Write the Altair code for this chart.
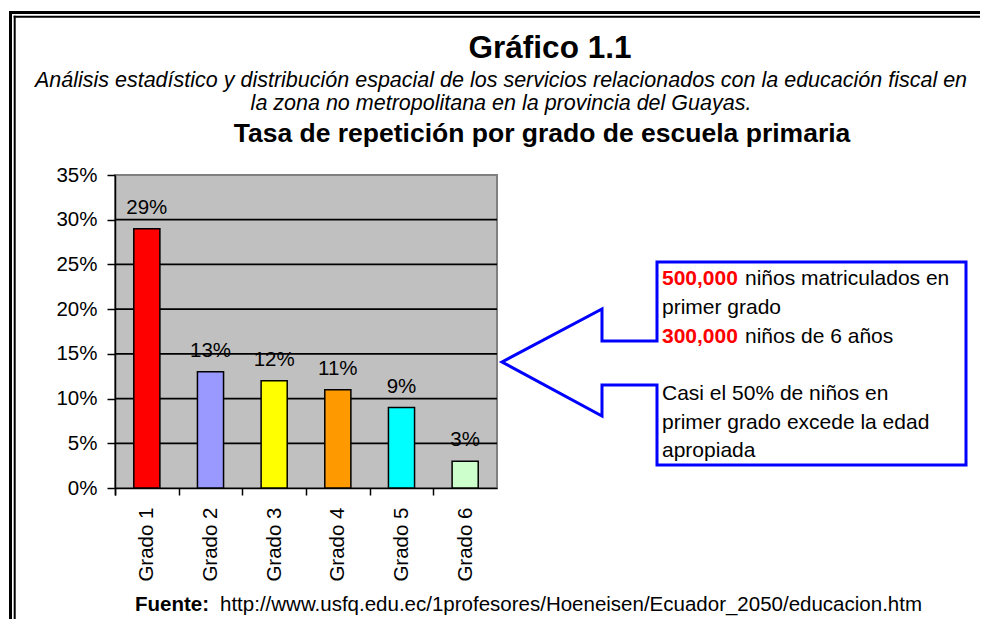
import altair as alt
import pandas as pd

# ---------------- data ----------------
grados = ["Grado 1", "Grado 2", "Grado 3", "Grado 4", "Grado 5", "Grado 6"]
tasas = [0.29, 0.13, 0.12, 0.11, 0.09, 0.03]
colores = ["#FF0000", "#9999FF", "#FFFF00", "#FF9900", "#00FFFF", "#CCFFCC"]
y_ticks = [0, 0.05, 0.10, 0.15, 0.20, 0.25, 0.30, 0.35]
grid_vals = [0.05, 0.10, 0.15, 0.20, 0.25, 0.30]

titulo = "Gráfico 1.1"
subtitulo = [
    "Análisis estadístico y distribución espacial de los servicios relacionados con la educación fiscal en",
    "la zona no metropolitana en la provincia del Guayas.",
]
titulo_grafico = "Tasa de repetición por grado de escuela primaria"
callout_bold = ["500,000", "", "300,000", "", "", "", ""]
callout_text = [
    "niños matriculados en",
    "primer grado",
    "niños de 6 años",
    "",
    "Casi el 50% de niños en",
    "primer grado excede la edad",
    "apropiada",
]
fuente_label = "Fuente:"
fuente_url = "http://www.usfq.edu.ec/1profesores/Hoeneisen/Ecuador_2050/educacion.htm"

df = pd.DataFrame({"grado": grados, "tasa": tasas, "color": colores})
one = pd.DataFrame({"k": [0]})

FONT = "Liberation Sans"
W, H = 382, 313
OX, OY = 115, 175  # page position of the plot area's top-left corner
PAD_L, PAD_T = OX - 8, OY - 8
TOTAL_W, TOTAL_H = 972, 611

P_INNER, P_OUTER = 0.59, 0.295
STEP = W / (len(grados) - P_INNER + 2 * P_OUTER)
TICK_SHIFT = STEP * P_OUTER

x_enc = alt.X(
    "grado:N",
    sort=grados,
    scale=alt.Scale(paddingInner=P_INNER, paddingOuter=P_OUTER),
    axis=alt.Axis(
        title=None,
        labelAngle=-90,
        bandPosition=0,
        tickExtra=True,
        tickOffset=-TICK_SHIFT,
        labelOffset=TICK_SHIFT,
        tickSize=7,
        tickColor="black",
        tickWidth=1.5,
        domainColor="black",
        domainWidth=1.5,
        labelFont=FONT,
        labelFontSize=20.5,
        labelColor="black",
        labelPadding=12,
    ),
)
y_scale = alt.Scale(domain=[0, 0.35], nice=False, zero=True)
y_axis = alt.Axis(
    title=None,
    values=y_ticks,
    format=".0%",
    grid=False,
    tickSize=8,
    tickColor="black",
    tickWidth=1.5,
    domainColor="black",
    domainWidth=1.5,
    labelFont=FONT,
    labelFontSize=20.5,
    labelColor="black",
    labelPadding=10,
)

grid = alt.Chart(pd.DataFrame({"tasa": grid_vals})).mark_rule(
    color="black", strokeWidth=1.8
).encode(y=alt.Y("tasa:Q", scale=y_scale, axis=y_axis))

bars = alt.Chart(df).mark_bar(stroke="black", strokeWidth=1.5).encode(
    x=x_enc,
    y=alt.Y("tasa:Q", scale=y_scale, axis=y_axis),
    color=alt.Color("color:N", scale=None, legend=None),
)

labels = alt.Chart(df).mark_text(
    dy=-15, baseline="alphabetic", font=FONT, fontSize=20.5, color="black"
).encode(
    x=x_enc,
    y=alt.Y("tasa:Q", scale=y_scale, axis=y_axis),
    text=alt.Text("tasa:Q", format=".0%"),
)


def px(v):
    return v - OX


def py(v):
    return v - OY


def rule(x1, y1, x2, y2, color="black", w=2):
    return alt.Chart(one).mark_rule(color=color, strokeWidth=w, strokeCap="square").encode(
        x=alt.value(px(x1)), y=alt.value(py(y1)), x2=alt.value(px(x2)), y2=alt.value(py(y2))
    )


def text(t, x, y, size, weight="normal", style="normal", color="black", align="left"):
    return alt.Chart(one).mark_text(
        font=FONT, fontSize=size, fontWeight=weight, fontStyle=style, color=color,
        align=align, baseline="alphabetic",
    ).encode(x=alt.value(px(x)), y=alt.value(py(y)), text=alt.value(t))


# outer double border (top and left visible)
border = [
    rule(10.5, 12.5, 990, 12.5, w=3),
    rule(10.5, 12.5, 10.5, 640, w=3),
    rule(14.7, 16.7, 990, 16.7, w=2),
    rule(14.7, 16.7, 14.7, 640, w=2),
]

# callout: box with a left-pointing arrow, drawn as one custom symbol
verts = [(657, 262), (966, 262), (966, 465), (657, 465), (657, 385), (602, 385),
         (602, 416), (502, 362), (602, 309), (602, 341), (657, 341)]
cx, cy = (502 + 966) / 2, (262 + 465) / 2
half = (966 - 502) / 2
path = "M" + " L".join(f"{(vx - cx) / half:.4f},{(vy - cy) / half:.4f}" for vx, vy in verts) + " Z"
callout = alt.Chart(one).mark_point(
    shape=path, size=(2 * half) ** 2, filled=True, fill="white", fillOpacity=1,
    stroke="#0000FF", strokeWidth=3, strokeJoin="miter", opacity=1,
).encode(x=alt.value(px(cx)), y=alt.value(py(cy)))

texts = [
    text(titulo, 550, 58, 31.5, weight="bold", align="center"),
    text(subtitulo[0], 501, 87, 21.5, style="italic", align="center"),
    text(subtitulo[1], 501, 110, 21.5, style="italic", align="center"),
    text(titulo_grafico, 542, 142, 26.5, weight="bold", align="center"),
    text(fuente_label, 135, 611, 20.5, weight="bold"),
    text(fuente_url, 220, 611, 20.5),
]
baselines = [285, 314, 343, 372, 400, 429, 457]
for b, t, yb in zip(callout_bold, callout_text, baselines):
    if b:
        texts.append(text(b, 662, yb, 21, weight="bold", color="#FF0000"))
        texts.append(text(t, 745, yb, 21))
    elif t:
        texts.append(text(t, 662, yb, 21))

chart = alt.layer(grid, bars, labels, *border, callout, *texts).properties(
    width=W,
    height=H,
    padding={"left": PAD_L, "top": PAD_T, "right": TOTAL_W - PAD_L - W, "bottom": TOTAL_H - PAD_T - H},
    autosize=alt.AutoSizeParams(type="none"),
    background="white",
).configure_view(
    fill="#C0C0C0", stroke="#808080", strokeWidth=2
)

chart.save("out.html", embed_options={"renderer": "svg", "actions": False})
